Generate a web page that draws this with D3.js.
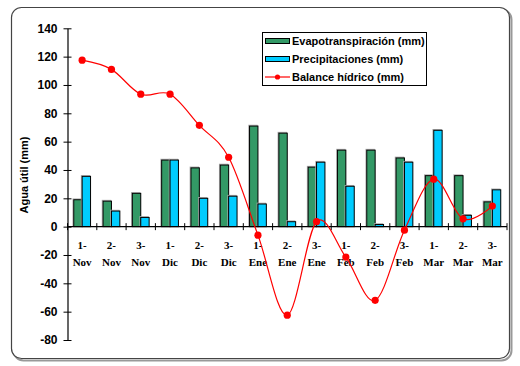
<!DOCTYPE html>
<html>
<head>
<meta charset="utf-8">
<script src="https://cdn.jsdelivr.net/npm/d3@7"></script>
<style>
  body { margin: 0; background: #fff; }
</style>
</head>
<body>
<div class="canva"></div>
<script>
const categories = ["1-Nov", "2-Nov", "3-Nov", "1-Dic", "2-Dic", "3-Dic", "1-Ene", "2-Ene", "3-Ene", "1-Feb", "2-Feb", "3-Feb", "1-Mar", "2-Mar", "3-Mar"];
const evapotranspiracion = [19, 18, 23.5, 47, 41.5, 43.5, 71, 66, 42, 54, 54, 48.5, 36, 36, 17.5];
const precipitaciones = [35.5, 11, 6.5, 47, 20, 21.5, 16, 3.5, 45.5, 28.5, 1.5, 45.5, 68, 8, 26];
const balance = [117.5, 111, 93.5, 93.5, 71.5, 49, -6, -62.5, 3.5, -21.5, -52, -2.5, 33.5, 5.5, 14.5];
const yTicks = [-80, -60, -40, -20, 0, 20, 40, 60, 80, 100, 120, 140];

const svg = d3.select(".canva").append("svg")
    .attr("width", 520)
    .attr("height", 366);

// outer frame with rounded corners
svg.append("rect")
    .attr("x", 12.5).attr("y", 8.5)
    .attr("width", 498).attr("height", 351)
    .attr("rx", 10)
    .attr("fill", "none")
    .attr("stroke", "#999")
    .attr("stroke-width", 2)
    .attr("transform", "translate(1,1)");
svg.append("rect")
    .attr("x", 11.5).attr("y", 7.5)
    .attr("width", 498).attr("height", 351)
    .attr("rx", 10)
    .attr("fill", "#fff")
    .attr("stroke", "#444")
    .attr("stroke-width", 1.2);

const plotLeft = 67.5, plotRight = 507, plotTop = 28.3, plotBottom = 340;

const x0 = d3.scaleBand()
    .domain(categories)
    .range([plotLeft, plotRight])
    .paddingInner(0.427)
    .paddingOuter(0.2135);

const x1 = d3.scaleBand()
    .domain(["evap", "prec"])
    .range([0, x0.bandwidth()]);

const y = d3.scaleLinear()
    .domain([-80, 140])
    .range([plotBottom, plotTop]);

const step = x0.step();

// y axis
const yAxis = d3.axisLeft(y)
    .tickValues(yTicks)
    .tickFormat(d => String(d))
    .tickSizeInner(4)
    .tickSizeOuter(0)
    .tickPadding(6);

const yAxisGroup = svg.append("g")
    .attr("transform", `translate(${plotLeft},0)`)
    .call(yAxis);
yAxisGroup.selectAll(".tick line").attr("x1", 4).attr("x2", -4).attr("stroke", "#000");
yAxisGroup.select(".domain").attr("stroke", "#000").attr("stroke-width", 1.2);
yAxisGroup.selectAll("text")
    .attr("fill", "#000")
    .style("font-family", "Arial, 'Liberation Sans', sans-serif")
    .style("font-weight", "bold")
    .style("font-size", "12px");

svg.append("text")
    .attr("transform", `translate(24,175) rotate(-90)`)
    .attr("text-anchor", "middle")
    .attr("dominant-baseline", "central")
    .style("font-family", "Arial, 'Liberation Sans', sans-serif")
    .style("font-weight", "bold")
    .style("font-size", "11px")
    .text("Agua útil (mm)");

// bars
const groups = svg.append("g").selectAll("g")
    .data(categories)
    .enter()
    .append("g")
    .attr("transform", d => `translate(${x0(d)},0)`);

const series = [
    { key: "evap", values: evapotranspiracion, color: "#339966" },
    { key: "prec", values: precipitaciones, color: "#00CCFF" }
];

series.forEach(s => {
    groups.append("rect")
        .attr("x", (d, i) => x1(s.key) - 0.8)
        .attr("y", (d, i) => y(s.values[i]) - 0.8)
        .attr("width", x1.bandwidth())
        .attr("height", (d, i) => y(0) - y(s.values[i]))
        .attr("fill", "none")
        .attr("stroke", "#aaa")
        .attr("stroke-width", 1);
    groups.append("rect")
        .attr("x", (d, i) => x1(s.key))
        .attr("y", (d, i) => y(s.values[i]))
        .attr("width", x1.bandwidth())
        .attr("height", (d, i) => y(0) - y(s.values[i]))
        .attr("fill", s.color)
        .attr("stroke", "#000")
        .attr("stroke-width", 1);
});

// x axis at zero
svg.append("line")
    .attr("x1", plotLeft).attr("x2", plotRight)
    .attr("y1", y(0)).attr("y2", y(0))
    .attr("stroke", "#000")
    .attr("stroke-width", 1.2);

svg.append("g").selectAll("line")
    .data(categories.concat(["end"]))
    .enter()
    .append("line")
    .attr("x1", (d, i) => plotLeft + i * step)
    .attr("x2", (d, i) => plotLeft + i * step)
    .attr("y1", y(0) - 3.5)
    .attr("y2", y(0) + 3.5)
    .attr("stroke", "#000");

const labels = svg.append("g").selectAll("text")
    .data(categories)
    .enter()
    .append("text")
    .attr("text-anchor", "middle")
    .style("font-family", "'Times New Roman', 'Liberation Serif', serif")
    .style("font-weight", "bold")
    .style("font-size", "11px")
    .attr("fill", "#000");

labels.append("tspan")
    .attr("x", d => x0(d) + x0.bandwidth() / 2)
    .attr("y", 249)
    .text(d => d.split("-")[0] + "-");
labels.append("tspan")
    .attr("x", d => x0(d) + x0.bandwidth() / 2)
    .attr("y", 265.5)
    .text(d => d.split("-")[1]);

// balance line
const line = d3.line()
    .x((d, i) => x0(categories[i]) + x0.bandwidth() / 2)
    .y(d => y(d))
    .curve(d3.curveCardinal.tension(0));

svg.append("path")
    .datum(balance)
    .attr("fill", "none")
    .attr("stroke", "#FF0000")
    .attr("stroke-width", 1.2)
    .attr("d", line);

svg.append("g").selectAll("circle")
    .data(balance)
    .enter()
    .append("circle")
    .attr("cx", (d, i) => x0(categories[i]) + x0.bandwidth() / 2)
    .attr("cy", d => y(d))
    .attr("r", 3.6)
    .attr("fill", "#FF0000");

// legend
const legend = svg.append("g").attr("transform", "translate(262,32)");
legend.append("rect")
    .attr("x", 0.5).attr("y", 0.5)
    .attr("width", 164).attr("height", 53)
    .attr("fill", "#fff")
    .attr("stroke", "#000")
    .attr("stroke-width", 1);

const legendItems = [
    { name: "Evapotranspiración (mm)", type: "bar", color: "#339966" },
    { name: "Precipitaciones (mm)", type: "bar", color: "#00CCFF" },
    { name: "Balance hídrico (mm)", type: "line", color: "#FF0000" }
];

legendItems.forEach((item, i) => {
    const row = legend.append("g").attr("transform", `translate(0, ${9 + i * 18})`);
    if (item.type === "bar") {
        row.append("rect")
            .attr("x", 3.5).attr("y", -2.5)
            .attr("width", 24).attr("height", 5)
            .attr("fill", item.color)
            .attr("stroke", "#000");
    } else {
        row.append("line")
            .attr("x1", 3).attr("x2", 28)
            .attr("y1", 0).attr("y2", 0)
            .attr("stroke", item.color)
            .attr("stroke-width", 1.2);
        row.append("circle")
            .attr("cx", 15.5).attr("cy", 0)
            .attr("r", 2.6)
            .attr("fill", item.color);
    }
    row.append("text")
        .attr("x", 30)
        .attr("y", 0)
        .attr("dominant-baseline", "central")
        .style("font-family", "Arial, 'Liberation Sans', sans-serif")
        .style("font-weight", "bold")
        .style("font-size", "11px")
        .attr("fill", "#000")
        .text(item.name);
});
</script>
</body>
</html>
